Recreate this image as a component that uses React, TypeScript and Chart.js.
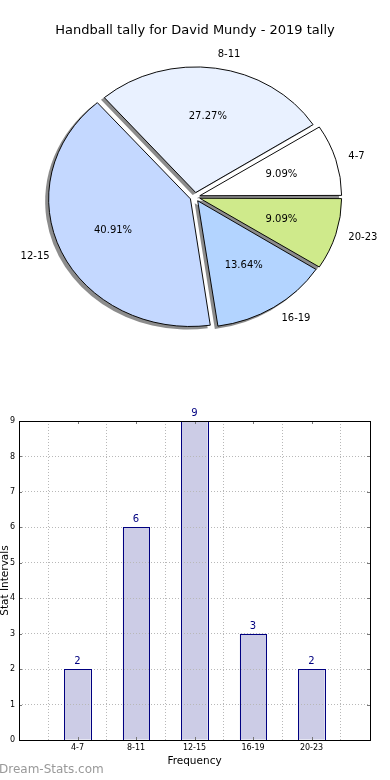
import { useEffect, useRef } from "react";
import { Chart, registerables } from "chart.js";

Chart.register(...registerables);

const categories = ["4-7", "8-11", "12-15", "16-19", "20-23"];
const counts = [2, 6, 9, 3, 2];
const pieColors = ["#ffffff", "#e9f1ff", "#c4d8ff", "#b3d4ff", "#cfea8b"];
const yTickValues = [0, 1, 2, 3, 4, 5, 6, 7, 8, 9];
const titleText = "Handball tally for David Mundy - 2019 tally";
const xTitle = "Frequency";
const yTitle = "Stat Intervals";
const watermark = "Dream-Stats.com";

const FONT = "'DejaVu Sans', 'Noto Sans', sans-serif";
const Y_SQUASH = 0.9;
const EXPLODE = 20;

const pieDecor = {
  id: "pieDecor",
  beforeDatasetsDraw(chart: any) {
    const ctx = chart.ctx;
    const meta = chart.getDatasetMeta(0);
    const el0 = meta.data[0];
    const cx = el0.x;
    const cy = el0.y;
    const shift = EXPLODE / 4;
    // shadows, drawn under every wedge
    ctx.save();
    ctx.translate(-3, 2.5);
    ctx.translate(cx, cy);
    ctx.scale(1, Y_SQUASH);
    ctx.translate(-cx, -cy);
    ctx.fillStyle = "rgba(45,45,45,0.55)";
    meta.data.forEach((el: any) => {
      const { x, y, startAngle, endAngle, outerRadius, circumference } = el.getProps(
        ["x", "y", "startAngle", "endAngle", "outerRadius", "circumference"],
        true
      );
      const mid = (startAngle + endAngle) / 2;
      const fix = 1 - Math.sin(Math.min(Math.PI, circumference || 0));
      const r = outerRadius + shift * fix + 0.5;
      const px = x + Math.cos(mid) * shift;
      const py = y + Math.sin(mid) * shift;
      ctx.beginPath();
      ctx.moveTo(px, py);
      ctx.arc(px, py, r, startAngle, endAngle);
      ctx.closePath();
      ctx.fill();
    });
    ctx.restore();
    // squash for the wedges themselves
    ctx.save();
    ctx.translate(cx, cy);
    ctx.scale(1, Y_SQUASH);
    ctx.translate(-cx, -cy);
  },
  afterDatasetsDraw(chart: any) {
    chart.ctx.restore();
  },
  afterDraw(chart: any) {
    const ctx = chart.ctx;
    ctx.save();
    ctx.fillStyle = "#000";
    ctx.font = `13px ${FONT}`;
    ctx.textAlign = "center";
    ctx.textBaseline = "alphabetic";
    ctx.fillText(titleText, chart.width / 2, 34);

    const meta = chart.getDatasetMeta(0);
    const ds = chart.data.datasets[0];
    const vals = ds.data as number[];
    const total = vals.reduce((a, b) => a + b, 0);
    const shift = EXPLODE / 4;
    meta.data.forEach((el: any, i: number) => {
      const { x, y, startAngle, endAngle, outerRadius } = el.getProps(
        ["x", "y", "startAngle", "endAngle", "outerRadius"],
        true
      );
      const mid = (startAngle + endAngle) / 2;
      const c = Math.cos(mid);
      const s = Math.sin(mid);
      const lr = shift + outerRadius * 1.11;
      ctx.font = `10px ${FONT}`;
      ctx.textBaseline = "middle";
      ctx.textAlign = c > 0 ? "left" : "right";
      ctx.fillText(chart.data.labels[i], x + c * lr, y + s * lr * Y_SQUASH);
      const pr = shift + outerRadius * 0.61;
      ctx.textAlign = "center";
      const pct = ((vals[i] / total) * 100).toFixed(2) + "%";
      ctx.fillText(pct, x + c * pr, y + s * pr * Y_SQUASH);
    });
    ctx.restore();
  },
};

const barDecor = {
  id: "barDecor",
  afterDraw(chart: any) {
    const ctx = chart.ctx;
    const { left, right, top, bottom } = chart.chartArea;
    const xs = chart.scales.x;
    const ys = chart.scales.y;
    ctx.save();
    // bar edges
    const meta = chart.getDatasetMeta(0);
    const data = chart.data.datasets[0].data;
    ctx.strokeStyle = "#000080";
    ctx.lineWidth = 1;
    meta.data.forEach((el: any, i: number) => {
      const v = data[i];
      if (v === null || v === undefined) return;
      const { x, y, base, width } = el.getProps(["x", "y", "base", "width"], true);
      const x0 = Math.round(x - width / 2) + 0.5;
      const x1 = Math.round(x + width / 2) + 0.5;
      const y0 = Math.round(y) + 0.5;
      const y1 = Math.round(base) + 0.5;
      ctx.strokeRect(x0, y0, x1 - x0, y1 - y0);
    });
    // inner ticks
    ctx.strokeStyle = "#777";
    ctx.beginPath();
    yTickValues.forEach((v) => {
      const py = Math.round(ys.getPixelForValue(v)) + 0.5;
      ctx.moveTo(left, py);
      ctx.lineTo(left + 3, py);
      ctx.moveTo(right - 3, py);
      ctx.lineTo(right, py);
    });
    categories.forEach((_, i) => {
      const px = Math.round(xs.getPixelForValue(i + 1)) + 0.5;
      ctx.moveTo(px, bottom);
      ctx.lineTo(px, bottom - 3);
      ctx.moveTo(px, top);
      ctx.lineTo(px, top + 3);
    });
    ctx.stroke();
    // frame
    ctx.strokeStyle = "#000";
    const l = Math.floor(left) + 0.5;
    const t = Math.floor(top) + 0.5;
    const r = Math.floor(right) + 0.5;
    const b = Math.floor(bottom) + 0.5;
    ctx.strokeRect(l, t, r - l, b - t);
    // value labels
    ctx.fillStyle = "#000080";
    ctx.font = `10px ${FONT}`;
    ctx.textAlign = "center";
    ctx.textBaseline = "alphabetic";
    meta.data.forEach((el: any, i: number) => {
      const v = data[i];
      if (v === null || v === undefined) return;
      ctx.fillText(String(v), el.x, el.y - 5);
    });
    // axis titles
    ctx.fillStyle = "#000";
    ctx.font = `10.5px ${FONT}`;
    ctx.fillText(xTitle, (left + right) / 2, 374);
    ctx.save();
    ctx.translate(8, (top + bottom) / 2);
    ctx.rotate(-Math.PI / 2);
    ctx.fillText(yTitle, 0, 0);
    ctx.restore();
    // watermark
    ctx.fillStyle = "#999999";
    ctx.font = `12px ${FONT}`;
    ctx.textAlign = "left";
    ctx.fillText(watermark, -1, 383);
    ctx.restore();
  },
};

export default function App() {
  const pieRef = useRef<HTMLCanvasElement>(null);
  const barRef = useRef<HTMLCanvasElement>(null);

  useEffect(() => {
    const pieLabels = [...categories].reverse();
    const pieValues = [...counts].reverse();
    const pieBg = [...pieColors].reverse();

    const pie = new Chart(pieRef.current as HTMLCanvasElement, {
      type: "pie",
      data: {
        labels: pieLabels,
        datasets: [
          {
            data: pieValues,
            backgroundColor: pieBg,
            borderColor: "#000",
            borderWidth: 1,
            offset: EXPLODE,
            clip: false,
            radius: 139.5,
          } as any,
        ],
      },
      options: {
        animation: false,
        responsive: false,
        devicePixelRatio: 1,
        events: [],
        rotation: 90,
        radius: 139.5,
        layout: { padding: { top: 4 } },
        plugins: {
          legend: { display: false },
          tooltip: { enabled: false },
          title: { display: false },
        },
      } as any,
      plugins: [pieDecor],
    });

    const xLabels = ["", ...categories, ""];
    const barValues = [null, ...counts, null];
    const gridOpts = { color: "#b8b8b8", drawTicks: false, z: 1, lineWidth: 1 };
    const bar = new Chart(barRef.current as HTMLCanvasElement, {
      type: "bar",
      data: {
        labels: xLabels,
        datasets: [
          {
            data: barValues,
            backgroundColor: "#ccccE6",
            borderWidth: 0,
            barPercentage: 0.45,
            categoryPercentage: 1,
          } as any,
        ],
      },
      options: {
        animation: false,
        responsive: false,
        devicePixelRatio: 1,
        events: [],
        layout: { padding: { top: 31, right: 20, left: 0, bottom: 0 } },
        plugins: {
          legend: { display: false },
          tooltip: { enabled: false },
        },
        scales: {
          x: {
            offset: false,
            grid: gridOpts,
            border: { display: false, dash: [1, 2] },
            ticks: {
              font: { family: FONT, size: 8 },
              color: "#000",
              padding: 3,
              maxRotation: 0,
              autoSkip: false,
            },
            afterFit(s: any) {
              s.height = 40;
            },
          },
          y: {
            min: 0,
            max: 9,
            grid: gridOpts,
            border: { display: false, dash: [1, 2] },
            ticks: {
              stepSize: 1,
              font: { family: FONT, size: 8 },
              color: "#000",
              padding: 4,
            },
            afterFit(s: any) {
              s.width = 19;
            },
          },
        },
      } as any,
      plugins: [barDecor],
    });

    return () => {
      pie.destroy();
      bar.destroy();
    };
  }, []);

  return (
    <div
      style={{
        position: "absolute",
        left: 0,
        top: 0,
        width: 390,
        height: 780,
        background: "#fff",
      }}
    >
      <canvas
        ref={pieRef}
        width={390}
        height={390}
        style={{ position: "absolute", left: 0, top: 0, width: 390, height: 390 }}
      />
      <canvas
        ref={barRef}
        width={390}
        height={390}
        style={{ position: "absolute", left: 0, top: 390, width: 390, height: 390 }}
      />
    </div>
  );
}
